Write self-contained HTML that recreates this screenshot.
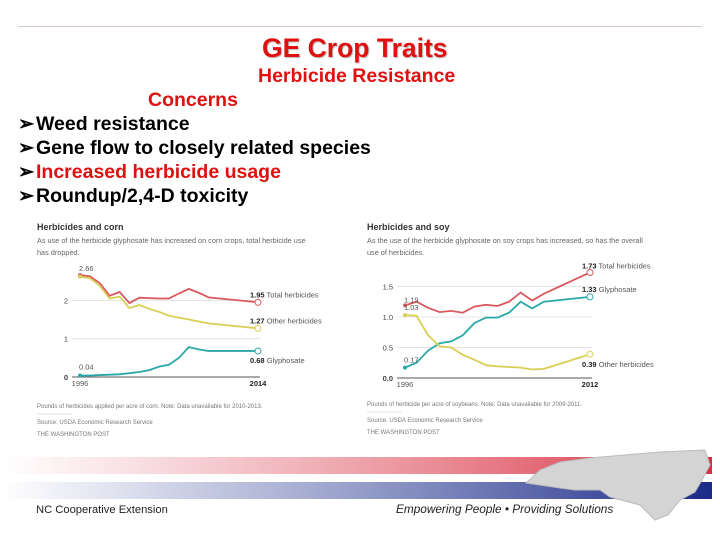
<!DOCTYPE html>
<html><head><meta charset="utf-8"><style>
body{margin:0;width:720px;height:540px;background:#fff;position:relative;overflow:hidden;font-family:"Liberation Sans",sans-serif}
.a{position:absolute}
.b{position:absolute;left:0;white-space:nowrap}
.b span.ar{position:absolute;left:0}
.b span.tx{position:absolute;left:18px}
</style></head><body>
<div class="a" style="left:18px;top:26px;width:684px;height:1px;background:#d8c8d0"></div>
<div class="a" style="left:262px;top:33px;color:#e01010;font-weight:bold;font-size:26.5px;white-space:nowrap;text-shadow:1px 1px 1px #bbb">GE Crop Traits</div>
<div class="a" style="left:258px;top:65px;color:#e01010;font-weight:bold;font-size:19.5px;white-space:nowrap">Herbicide Resistance</div>
<div class="a" style="left:148px;top:89px;color:#e01010;font-weight:bold;font-size:19.5px">Concerns</div>
<div class="a" style="left:18px;top:112px;width:420px;height:100px;font-weight:bold;font-size:19.5px;line-height:24px">
<div class="b" style="top:0"><span class="ar">➢</span><span class="tx">Weed resistance</span></div>
<div class="b" style="top:24px"><span class="ar">➢</span><span class="tx">Gene flow to closely related species</span></div>
<div class="b" style="top:48px"><span class="ar">➢</span><span class="tx" style="color:#e01010">Increased herbicide usage</span></div>
<div class="b" style="top:72px"><span class="ar">➢</span><span class="tx">Roundup/2,4-D toxicity</span></div>
</div>

<svg class="a" style="left:0;top:0" width="720" height="540" font-family="Liberation Sans, sans-serif">
<g id="corn"></g>
<g id="soy"></g>
<defs>
<linearGradient id="gr" x1="0" x2="1"><stop offset="0" stop-color="#e06070" stop-opacity="0"/><stop offset="1" stop-color="#d83040"/></linearGradient>
<linearGradient id="gb" x1="0" x2="1"><stop offset="0" stop-color="#4050a0" stop-opacity="0"/><stop offset="1" stop-color="#1c2a88"/></linearGradient>
</defs>
<rect x="0" y="457" width="712" height="17" fill="url(#gr)"/>
<rect x="0" y="482" width="712" height="17" fill="url(#gb)"/>
<path d="M526 483 L540 470 L560 462 L590 458 L660 452 L705 450 L710 465 L702 480 L695 492 L680 500 L668 515 L655 520 L640 505 L610 497 L600 490 L575 490 L560 488 Z" fill="#d4d4d4" stroke="#bbb"/>
<text x="36" y="513" font-size="11.2" fill="#222">NC Cooperative Extension</text>
<text x="396" y="513" font-size="11.8" font-style="italic" fill="#222">Empowering People • Providing Solutions</text>
</svg>
<script>
const cornYears=[1996,1997,1998,1999,2000,2001,2002,2003,2004,2005,2006,2007,2008,2009,2014];
const cornTotal=[2.66,2.63,2.45,2.12,2.22,1.93,2.07,2.06,2.05,2.05,2.18,2.3,2.2,2.08,1.95];
const cornOther=[2.62,2.58,2.38,2.05,2.1,1.8,1.88,1.78,1.7,1.6,1.55,1.5,1.45,1.4,1.27];
const cornGly=[0.04,0.04,0.05,0.06,0.07,0.1,0.13,0.18,0.27,0.32,0.5,0.78,0.72,0.68,0.68];
const cornTicks=[0,1,2];
const soyYears=[1996,1997,1998,1999,2000,2001,2002,2003,2004,2005,2006,2007,2008,2012];
const soyTotal=[1.19,1.25,1.15,1.08,1.1,1.07,1.17,1.2,1.18,1.25,1.4,1.27,1.38,1.73];
const soyGly=[0.17,0.25,0.45,0.57,0.6,0.7,0.9,0.99,0.99,1.07,1.25,1.14,1.25,1.33];
const soyOther=[1.03,1.02,0.7,0.52,0.5,0.38,0.3,0.21,0.19,0.18,0.17,0.14,0.15,0.39];
const soyTicks=[0,0.5,1.0,1.5];
const NS='http://www.w3.org/2000/svg';
function mk(g,t,a,txt){const e=document.createElementNS(NS,t);for(const k in a)e.setAttribute(k,a[k]);if(txt!==undefined)e.textContent=txt;g.appendChild(e);return e;}
const RED='#d9595f',YEL='#d8cf55',TEAL='#2aa8a8';
function chart(gid,c){
 const g=document.getElementById(gid);
 const X=v=>c.x0+(v-c.y0)/(c.y1-c.y0)*(c.x1-c.x0);
 const Y=v=>c.base-v*c.ppu;
 let e=mk(g,'text',{x:c.left,y:c.top,'font-size':9,'font-weight':'bold',fill:'#333'},c.title);
 
 c.sub.forEach((s,i)=>{e=mk(g,'text',{x:c.left,y:c.top+13+i*12,'font-size':7.3,fill:'#666'},s);
 });
 c.ticks.forEach(t=>{e=mk(g,'line',{x1:c.x0-8,x2:c.x1+2,y1:Y(t),y2:Y(t),stroke:t===0?'#555':'#ddd','stroke-width':t===0?1:0.8});
 
 e=mk(g,'text',{x:c.x0-12,y:Y(t)+3,'font-size':7.5,'text-anchor':'end',fill:'#444','font-weight':t===0?'bold':'normal'},c.fmt(t));
 });
 e=mk(g,'text',{x:X(c.y0),y:c.base+9,'font-size':7.5,'text-anchor':'middle',fill:'#555'},String(c.y0));
 
 e=mk(g,'text',{x:X(c.y1),y:c.base+9,'font-size':7.5,'font-weight':'bold','text-anchor':'middle',fill:'#222'},String(c.y1));
 
 c.series.forEach(s=>{
  const pts=c.years.map((yr,i)=>X(yr)+','+Y(s.v[i])).join(' ');
  e=mk(g,'polyline',{points:pts,fill:'none',stroke:s.col,'stroke-width':1.8});
  
  const n=s.v.length-1;
  e=mk(g,'circle',{cx:X(c.years[0]),cy:Y(s.v[0]),r:2,fill:s.col});
  
  e=mk(g,'circle',{cx:X(c.years[n]),cy:Y(s.v[n]),r:3,fill:'#fff',stroke:s.col,'stroke-width':1});
  
  e=mk(g,'text',{x:X(c.years[n])-8,y:Y(s.v[n])+s.ly,'font-size':7.5,fill:'#555'});
  
  mk(e,'tspan',{'font-weight':'bold',fill:'#222'},s.v[n].toFixed(2));mk(e,'tspan',{},'  '+s.label);
  if(s.startLabel){e=mk(g,'text',{x:X(c.years[0])-1,y:Y(s.v[0])+s.sy,'font-size':7.5,fill:'#555'},s.v[0].toFixed(2));
  }
 });
 c.foot.forEach((f,i)=>{e=mk(g,'text',{x:c.left,y:c.footY+f[1],'font-size':6,fill:'#777'},f[0]);
 });
 e=mk(g,'line',{x1:c.left,x2:c.left+35,y1:c.footY+6,y2:c.footY+6,stroke:'#ccc','stroke-width':0.6});
}
chart('corn',{left:37,top:230,title:'Herbicides and corn',sub:['As use of the herbicide glyphosate has increased on corn crops, total herbicide use','has dropped.'],
 x0:80,x1:258,y0:1996,y1:2014,base:377,ppu:38.3,ticks:cornTicks,fmt:t=>String(t),years:cornYears,
 series:[{name:'total-herbicides',v:cornTotal,col:RED,label:'Total herbicides',ly:-5,startLabel:true,sy:-4},
 {name:'other-herbicides',v:cornOther,col:YEL,label:'Other herbicides',ly:-5},
 {name:'glyphosate',v:cornGly,col:TEAL,label:'Glyphosate',ly:12,startLabel:true,sy:-6}],
 footY:408,foot:[['Pounds of herbicides applied per acre of corn. Note: Data unavailable for 2010-2013.',0],['Source: USDA Economic Research Service',16],['THE WASHINGTON POST',28]]});
chart('soy',{left:367,top:230,title:'Herbicides and soy',sub:['As the use of the herbicide glyphosate on soy crops has increased, so has the overall','use of herbicides.'],
 x0:405,x1:590,y0:1996,y1:2012,base:378,ppu:61,ticks:soyTicks,fmt:t=>t.toFixed(1),years:soyYears,
 series:[{name:'total-herbicides',v:soyTotal,col:RED,label:'Total herbicides',ly:-4,startLabel:true,sy:-3},
 {name:'glyphosate',v:soyGly,col:TEAL,label:'Glyphosate',ly:-5,startLabel:true,sy:-5},
 {name:'other-herbicides',v:soyOther,col:YEL,label:'Other herbicides',ly:13,startLabel:true,sy:-5}],
 footY:406,foot:[['Pounds of herbicide per acre of soybeans. Note: Data unavailable for 2009-2011.',0],['Source: USDA Economic Research Service',16],['THE WASHINGTON POST',28]]});
</script>
</body></html>
